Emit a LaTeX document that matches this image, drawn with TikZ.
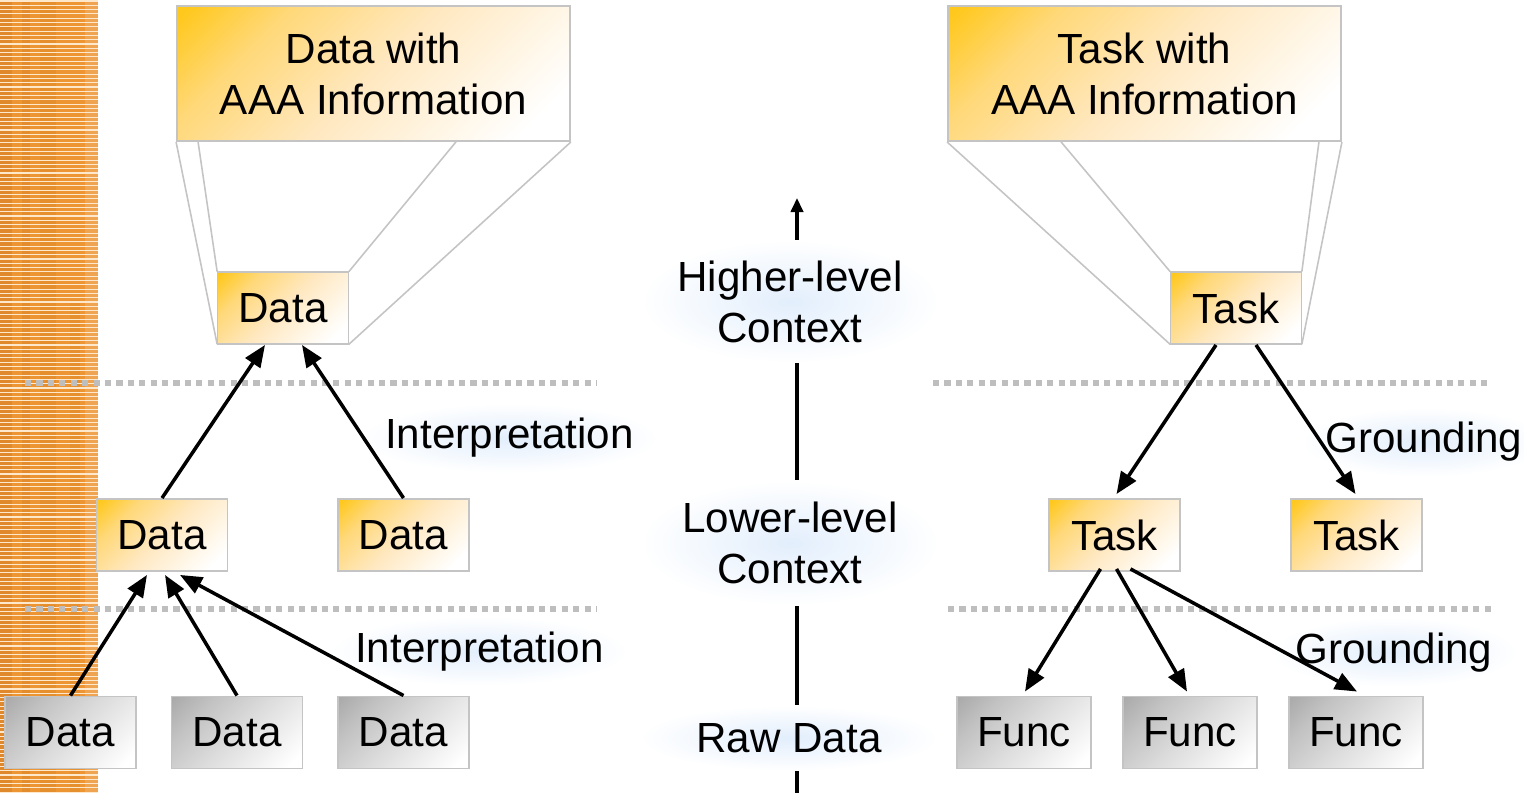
\documentclass[tikz,border=0pt]{standalone}
\usepackage{fontspec}
\setmainfont{Liberation Sans}
\usetikzlibrary{arrows.meta,calc}
\definecolor{orA}{HTML}{FFC81C}
\definecolor{orB}{HTML}{FFD878}
\definecolor{orM}{HTML}{FFE8C0}
\definecolor{grA}{HTML}{ABABAB}
\definecolor{grB}{HTML}{C2C2C2}
\definecolor{grM}{HTML}{DCDCDC}
\definecolor{edgec}{HTML}{C4C4C4}
\definecolor{dotc}{HTML}{BEBEBE}
\definecolor{glowc}{HTML}{E2EEFC}
\definecolor{stripec}{HTML}{EC9532}
\definecolor{stripel}{HTML}{FDE8CC}
\definecolor{woodc}{HTML}{A85812}
\pgfdeclareverticalshading{oshade}{100bp}{color(0bp)=(white); color(22bp)=(white); color(50bp)=(orM); color(70bp)=(orB); color(84bp)=(orA); color(100bp)=(orA)}
\pgfdeclareverticalshading{gshade}{100bp}{color(0bp)=(white); color(20bp)=(white); color(50bp)=(grM); color(70bp)=(grB); color(84bp)=(grA); color(100bp)=(grA)}
\tikzset{
  every node/.style={font=\fontsize{24}{29}\selectfont, inner sep=0pt},
  obox/.style={draw=edgec, line width=1.1pt, shading=oshade, shading angle=45},
  gbox/.style={draw=edgec, line width=1.1pt, shading=gshade, shading angle=45},
  bigbox/.style={obox, minimum width=7.86cm, minimum height=2.7cm, align=center},
  smallbox/.style={minimum width=2.62cm, minimum height=1.44cm},
  callout/.style={draw=edgec, line width=0.9pt},
  dotline/.style={draw=dotc, line width=3.1pt, dash pattern=on 3.5pt off 3pt},
  arr/.style={draw=black, line width=2pt, -{Triangle[length=12.5pt,width=10pt]}},
  axisline/.style={draw=black, line width=1.8pt},
  glowbox/.style={shading=radial, inner color=glowc, outer color=white},
  lbl/.style={glowbox, anchor=base, inner xsep=0.5cm, inner ysep=0.3cm}
}
\begin{document}
\begin{tikzpicture}[x=0.02cm,y=-0.02cm]
\useasboundingbox (0,0) rectangle (1524,793);
% left decorative stripe
\fill[stripec] (0,0) rectangle (98,793);
\fill[woodc, opacity=0.18] (0,0) rectangle (12,793);
\fill[woodc, opacity=0.14] (22,0) rectangle (30,793);
\fill[woodc, opacity=0.11] (40,0) rectangle (56,793);
\fill[woodc, opacity=0.09] (70,300) rectangle (80,793);
\fill[white, opacity=0.15] (85,0) rectangle (98,793);
\foreach \yy in {1,5.3,...,793} {\draw[stripel, line width=0.65pt] (0,\yy) -- (98,\yy);}

% dotted level separators
\draw[dotline] (25,383) -- (597,383);
\draw[dotline] (933,383) -- (1492,383);
\draw[dotline] (25,609) -- (597,609);
\draw[dotline] (948,609) -- (1492,609);

% big boxes
\node[bigbox] (bigL) at (373.5,73.5) {Data with\\AAA Information};
\node[bigbox] (bigR) at (1144.5,73.5) {Task with\\AAA Information};

% callout anchors: upper level boxes
\node[smallbox] (dt) at (283,308) {};
\node[smallbox] (tt) at (1236,308) {};

% callout lines
\draw[callout] (dt.south west) -- (bigL.south west);
\draw[callout] (dt.north west) -- ($(bigL.south west)+(22,0)$);
\draw[callout] (dt.north east) -- ($(bigL.south east)+(-115,0)$);
\draw[callout] (dt.south east) -- (bigL.south east);
\draw[callout] (tt.south west) -- (bigR.south west);
\draw[callout] (tt.north west) -- ($(bigR.south west)+(114,0)$);
\draw[callout] (tt.north east) -- ($(bigR.south east)+(-23,0)$);
\draw[callout] (tt.south east) -- (bigR.south east);

% upper level boxes
\node[obox, smallbox] (dtbox) at (dt) {Data};
\node[obox, smallbox] (ttbox) at (tt) {Task};

% middle level boxes
\node[obox, smallbox] (dm1) at (162,535) {Data};
\node[obox, smallbox] (dm2) at (403.5,535) {Data};
\node[obox, smallbox] (tm1) at (1114.5,535) {Task};
\node[obox, smallbox] (tm2) at (1356.5,535) {Task};

% bottom level boxes
\node[gbox, smallbox] (db1) at (70.5,732.5) {Data};
\node[gbox, smallbox] (db2) at (237,732.5) {Data};
\node[gbox, smallbox] (db3) at (403.5,732.5) {Data};
\node[gbox, smallbox, minimum width=2.68cm] (f1) at (1024,732.5) {Func};
\node[gbox, smallbox, minimum width=2.68cm] (f2) at (1190,732.5) {Func};
\node[gbox, smallbox, minimum width=2.68cm] (f3) at (1356,732.5) {Func};

% edge labels
\node[lbl] (i1) at (509.5,449) {Interpretation};
\node[lbl] (i2) at (479.5,662) {Interpretation};
\node[lbl] (g1) at (1424,453) {Grounding};
\node[lbl] (g2) at (1394,663) {Grounding};

% axis labels
\node[glowbox, align=center, minimum width=6cm, minimum height=2.46cm] (high) at (790,301.5) {Higher-level\\Context};
\node[glowbox, align=center, minimum width=6cm, minimum height=2.5cm] (low) at (790,543) {Lower-level\\Context};
\node[glowbox, minimum width=6cm, minimum height=1.3cm] (raw) at (789,738) {Raw Data};
\coordinate (tip) at (797,198);
\coordinate (bot) at (797,793);
\draw[axisline, -{Triangle[length=8pt,width=7pt]}] (high.north -| tip) -- (tip);
\draw[axisline] (low.north -| tip) -- (high.south -| tip);
\draw[axisline] (raw.north -| tip) -- (low.south -| tip);
\draw[axisline] (bot) -- (raw.south -| tip);

% interpretation arrows (left)
\draw[arr] (dm1.north) -- ($(dtbox.south)+(-18,0)$);
\draw[arr] (dm2.north) -- ($(dtbox.south)+(19,0)$);
\draw[arr] (db1.north) -- ($(dm1.south)+(-15,3)$);
\draw[arr] (db2.north) -- ($(dm1.south)+(3,3)$);
\draw[arr] (db3.north) -- ($(dm1.south)+(18,3)$);

% grounding arrows (right)
\draw[arr] ($(ttbox.south)+(-20,0)$) -- ($(tm1.north)+(2,-4)$);
\draw[arr] ($(ttbox.south)+(20,0)$) -- ($(tm2.north)+(-1,-4)$);
\draw[arr] ($(tm1.south)+(-14,-3)$) -- ($(f1.north)+(1,-4)$);
\draw[arr] ($(tm1.south)+(2,-3)$) -- ($(f2.north)+(-3,-4)$);
\draw[arr] ($(tm1.south)+(16,-3)$) -- ($(f3.north)+(1,-4)$);
\end{tikzpicture}
\end{document}
